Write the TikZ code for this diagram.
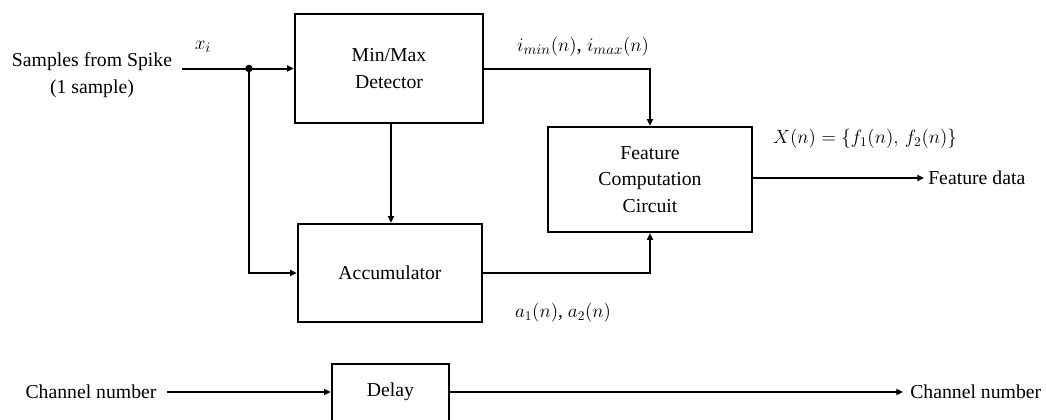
\documentclass[tikz,border=0pt]{standalone}
\usepackage{fontspec}
\setmainfont{Liberation Serif}
\usetikzlibrary{arrows.meta}
\tikzset{
  blk/.style={draw, line width=1.9pt, inner sep=0pt, align=center},
  lbl/.style={inner sep=0pt, align=center},
  mlbl/.style={lbl, font=\fontsize{15.6}{20}\selectfont},
  wire/.style={line width=1.5pt},
  arr/.style={wire, -{Triangle[length=5pt,width=4.5pt]}},
}
\begin{document}
\begin{tikzpicture}[x=0.75pt, y=-0.75pt, font=\fontsize{14.8}{20}\selectfont]
\path[use as bounding box, clip] (0,0) rectangle (1046,419);

% processing blocks
\node[blk, minimum width=141pt, minimum height=81.75pt] (mm) at (389,68.5) {Min/Max\\Detector};
\node[blk, minimum width=153pt, minimum height=78.75pt] (fc) at (650,179.5) {Feature\\Computation\\Circuit};
\node[blk, minimum width=138pt, minimum height=73.5pt] (acc) at (390,273) {Accumulator};
\node[blk, minimum width=87.75pt, minimum height=45pt] (dly) at (390.5,394) {};
\node[lbl] (dlytxt) at (390.5,392) {Delay};

% inputs and outputs
\node[lbl] (src) at (92,75) {Samples from Spike\\(1 sample)};
\node[lbl, anchor=west] (fd) at (928,178) {Feature data};
\node[lbl] (chin) at (91,392) {Channel number};
\node[lbl, anchor=west] (chout) at (910,392) {Channel number};

% signal labels
\node[mlbl] (xi) at (203,47) {$x_i$};
\node[mlbl] (ilbl) at (583,47) {$i_{min}(n)$, $i_{max}(n)$};
\node[lbl] (albl) at (563,313) {$a_1(n)$, $a_2(n)$};
\node[lbl] (xlbl) at (865,139) {$X(n) = \{f_1(n),\, f_2(n)\}$};

% branch point of the sample input
\coordinate (j) at (249,68.5);
\fill (j) circle (2.8pt);

% connectors
\draw[wire, shorten <=7.5pt] (src.east |- j) -- (j);
\draw[arr] (j) -- (mm.west);
\draw[arr] (j) |- (acc.west);
\draw[arr] (mm.south -| 391,0) -- (acc.north -| 391,0);
\draw[arr] (mm.east) -| (fc.north);
\draw[arr] (acc.east) -| (fc.south);
\draw[arr, shorten >=3pt] (fc.east |- fd.west) -- (fd.west);
\draw[arr, shorten <=7.5pt] (chin.east) -- (chin.east -| dly.west);
\draw[arr, shorten >=5.25pt] (dly.east |- chout.west) -- (chout.west);
\end{tikzpicture}
\end{document}
